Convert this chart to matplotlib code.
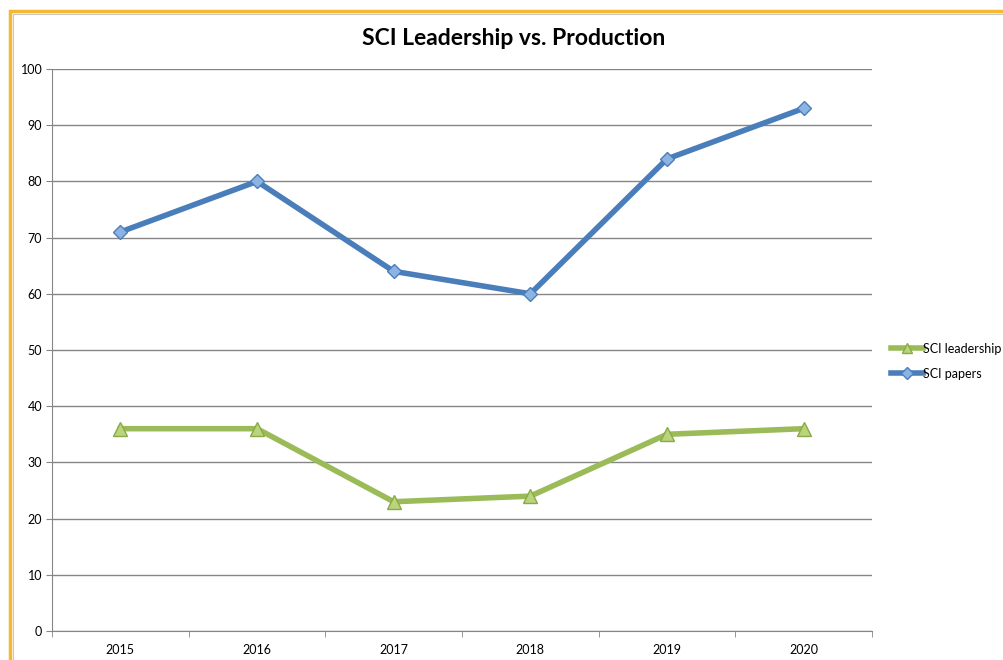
import matplotlib
matplotlib.use('Agg')
import matplotlib.pyplot as plt
import matplotlib.patches as patches
import numpy as np

years = ['2015', '2016', '2017', '2018', '2019', '2020']
sci_leadership = [36, 36, 23, 24, 35, 36]
sci_papers = [71, 80, 64, 60, 84, 93]

plt.rcParams['font.family'] = ['Lato', 'DejaVu Sans']

fig = plt.figure(figsize=(10.04, 6.6), dpi=100)
ax = fig.add_axes([52 / 1004, 29 / 660, 820 / 1004, 562 / 660])

x = np.arange(len(years))
ax.plot(x, sci_leadership, color='#9BBB59', lw=4, marker='^', ms=10,
        mfc='#B9D47A', mec='#8AAA48', mew=1, label='SCI leadership', zorder=3)
ax.plot(x, sci_papers, color='#4A7EBB', lw=4, marker='D', ms=7.5,
        mfc='#8DB3E2', mec='#4A7EBB', mew=1, label='SCI papers', zorder=3)

ax.set_xlim(-0.5, len(years) - 0.5)
ax.set_ylim(0, 100)
ax.set_yticks(range(0, 101, 10))
ax.set_xticks(x)
ax.set_xticklabels(years)
ax.set_xticks(np.arange(-0.5, len(years)), minor=True)
ax.tick_params(axis='x', which='major', length=0, pad=9, labelsize=9)
ax.tick_params(axis='x', which='minor', length=4, color='#868686', direction='out')
ax.tick_params(axis='y', length=4, color='#868686', pad=3, labelsize=9)
ax.grid(axis='y', color='#868686', lw=1)
ax.set_axisbelow(True)
for s in ['top', 'right']:
    ax.spines[s].set_visible(False)
for s in ['left', 'bottom']:
    ax.spines[s].set_color('#868686')

fig.text(0.5115, 0.941, 'SCI Leadership vs. Production', ha='center', va='center',
         fontsize=16.5, fontweight='bold')

ax.legend(loc='center left', bbox_to_anchor=(1.01, 0.48), frameon=False,
          fontsize=9, handlelength=2.5, handletextpad=0.05, labelspacing=1.05,
          markerscale=0.75)

# orange chart border
fig.patches.append(patches.Rectangle((10, -20), 1030, 669, transform=None,
                                     fill=False, edgecolor='#F6B82E', lw=2.5))
fig.patches.append(patches.Rectangle((12.5, -20), 1030, 666.5, transform=None,
                                     fill=False, edgecolor='#C8C8C8', lw=0.8))

fig.savefig('out.png', dpi=100)
